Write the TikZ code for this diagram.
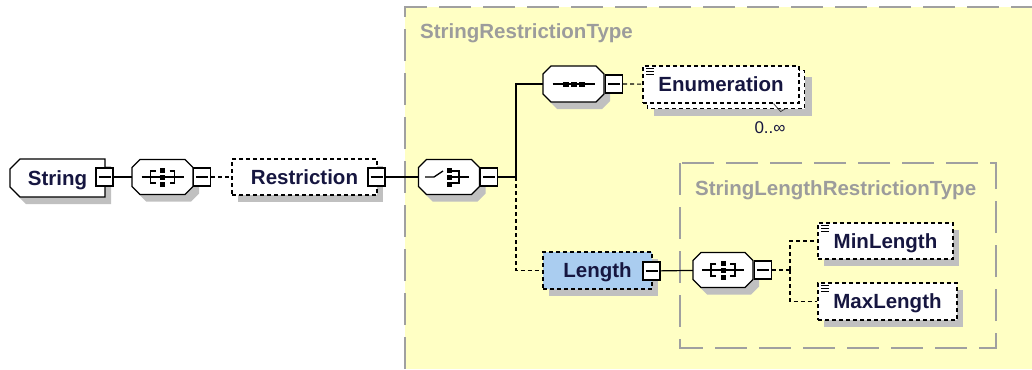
\documentclass[tikz,border=0pt]{standalone}
\usepackage{fontspec}
\setmainfont{Liberation Sans}
\usetikzlibrary{shapes.misc,shadows,backgrounds}

\definecolor{groupfill}{HTML}{FFFFC4}
\definecolor{groupline}{HTML}{A0A0A0}
\definecolor{grouptext}{HTML}{9C9C9C}
\definecolor{nametext}{HTML}{161640}
\definecolor{shadowgray}{HTML}{C0C0C0}
\definecolor{selfill}{HTML}{AACDF0}

\newcommand\namefont{\fontsize{20.5}{24}\selectfont\bfseries}
\newcommand\occfont{\fontsize{17}{20}\selectfont}

\tikzset{
  boxshadow/.style={drop shadow={shadow xshift=6pt, shadow yshift=-7pt, fill=shadowgray, opacity=1}},
  plainbox/.style={draw=black, line width=1.2pt, fill=white, inner sep=0pt,
    minimum height=36pt, font=\namefont, text=nametext, text height=14.7pt, text depth=0pt},
  elem/.style={plainbox, boxshadow},
  optelem/.style={elem, dash pattern=on 4pt off 3pt},
  comp/.style={inner sep=0pt, minimum width=61pt, minimum height=35pt},
  mbox/.style={draw=black, line width=1.2pt, fill=white, minimum width=17pt, minimum height=18pt,
    inner sep=0pt, path picture={\draw[line width=1.2pt]
      ([xshift=2.5pt]path picture bounding box.west) -- ([xshift=-2.5pt]path picture bounding box.east);}},
  wire/.style={draw=black, line width=1.2pt},
  optwire/.style={wire, dash pattern=on 4pt off 3pt},
  grp/.style={draw=groupline, line width=1.6pt, dash pattern=on 32pt off 12pt},
  grptitle/.style={font=\namefont, text=grouptext, anchor=base west, inner sep=0pt},
  glyph/.style={line width=1.3pt},
}

% octagonal compositor outline with its shadow, around a named node
% #1 node, #2 half width, #3 half height
\newcommand\compbox[3]{%
  \begin{scope}[shift={(#1.center)}]
    \begin{scope}[shift={(6,7)}]
      \fill[shadowgray] (-#2+8,-#3) -- (#2-8,-#3) -- (#2,-#3+8) -- (#2,#3-8) -- (#2-8,#3)
        -- (-#2+8,#3) -- (-#2,#3-8) -- (-#2,-#3+8) -- cycle;
    \end{scope}
    \filldraw[fill=white, draw=black, line width=1.2pt]
      (-#2+8,-#3) -- (#2-8,-#3) -- (#2,-#3+8) -- (#2,#3-8) -- (#2-8,#3)
      -- (-#2+8,#3) -- (-#2,#3-8) -- (-#2,-#3+8) -- cycle;
  \end{scope}}

% compositor glyphs, drawn around the centre of a compositor node
\newcommand\allglyph[1]{%
  \begin{scope}[shift={(#1.center)}]
    \draw[glyph] (-21,0) -- (21,0);
    \draw[glyph] (-7,-6) -- (-12,-6) -- (-12,6) -- (-7,6);
    \draw[glyph] (7,-6) -- (12,-6) -- (12,6) -- (7,6);
    \foreach \d in {-7,0,7} \fill (-2.5,\d-2.5) rectangle (2.5,\d+2.5);
  \end{scope}}
\newcommand\choiceglyph[1]{%
  \begin{scope}[shift={(#1.center)}]
    \draw[glyph] (-24,0) -- (-15,0) -- (-6,-6);
    \draw[glyph] (3,-6) -- (10,-6) -- (10,6) -- (3,6);
    \draw[glyph] (3,0) -- (20,0);
    \foreach \d in {-7,0,7} \fill (-2.5,\d-2.5) rectangle (2.5,\d+2.5);
  \end{scope}}
\newcommand\seqglyph[1]{%
  \begin{scope}[shift={(#1.center)}]
    \draw[glyph] (-21,0) -- (21,0);
    \foreach \d in {-8,0,8} \fill (\d-3,-2.5) rectangle (\d+3,2.5);
  \end{scope}}
% the "simple content" mark in the top left corner of an element box
\newcommand\contentmark[1]{%
  \begin{scope}[shift={(#1.north west)}]
    \foreach \d in {3,6,9} \draw[line width=0.9pt] (4,\d) -- (12,\d);
  \end{scope}}

\begin{document}
\begin{tikzpicture}[x=1pt, y=-1pt]
\useasboundingbox (0,0) rectangle (1032,369);

% type groups
\begin{scope}[on background layer]
  \fill[groupfill] (405,7) rectangle (1032,369);
  \draw[grp] (405,369) -- (405,7) -- (1032,7);
  \draw[grp] (680,163) rectangle (996,348);
\end{scope}
\node[grptitle] (t1) at (420,38.5) {StringRestrictionType};
\node[grptitle] (t2) at (695,195) {StringLengthRestrictionType};

% elements and compositors
\node[elem, chamfered rectangle, chamfered rectangle corners={north west,south west},
      chamfered rectangle sep=5pt, minimum width=95pt, minimum height=38pt]
      (str) at (57.5,178) {String\hspace{18pt}};
\node[mbox] (strm) at (104.5,177) {};
\node[comp] (c1) at (162.5,177) {};
\compbox{c1}{30.5}{17.5}
\node[mbox] (c1m) at (202,177) {};
\node[optelem, minimum width=145pt] (restr) at (304.5,177) {Restriction\hspace{6pt}};
\node[mbox] (restrm) at (376.5,177) {};
\node[comp] (c2) at (449,177) {};
\compbox{c2}{30.5}{17.5}
\node[mbox] (c2m) at (489,177) {};
\coordinate (j1) at (516,177);

\node[comp, minimum height=36pt] (c3) at (573.5,84) {};
\compbox{c3}{30.5}{18}
\node[mbox] (c3m) at (614,84) {};
\node[plainbox, dash pattern=on 4pt off 3pt, minimum width=156pt, minimum height=37pt]
      (enum) at (721,84.5) {Enumeration};
\node[font=\occfont, text=nametext, inner sep=0pt] (occ) at (770,128) {0..∞};

\node[optelem, fill=selfill, minimum width=109pt, minimum height=37pt]
      (len) at (597.5,270.5) {Length\hspace{5pt}};
\node[mbox] (lenm) at (651.5,271) {};
\node[comp, minimum width=60pt] (c4) at (723,270) {};
\compbox{c4}{30}{17.5}
\node[mbox] (c4m) at (763,270) {};
\coordinate (j2) at (790,270);
\node[optelem, minimum width=135pt] (minl) at (885.5,241) {MinLength};
\node[optelem, minimum width=139pt, minimum height=37pt] (maxl) at (887.5,301.5) {MaxLength};

% repeated element: stacked copy behind Enumeration
\begin{scope}[on background layer]
  \fill[shadowgray] ([shift={(12,12)}]enum.north west) rectangle ([shift={(12,12)}]enum.south east);
  \draw[plainbox, dash pattern=on 4pt off 3pt]
    ([shift={(5,5)}]enum.north west) rectangle ([shift={(5,5)}]enum.south east);
\end{scope}
\draw[black!75, line width=0.8pt] ([shift={(-26,0)}]enum.south east) -- ([shift={(-19,8)}]enum.south east)
  -- ([shift={(-14,5)}]enum.south east);

% glyphs
\allglyph{c1}
\choiceglyph{c2}
\seqglyph{c3}
\allglyph{c4}
\contentmark{enum}
\contentmark{minl}
\contentmark{maxl}

% connectors
\draw[wire] (strm) -- (c1);
\draw[optwire] (c1m) -- (restr);
\draw[wire] (restrm) -- (c2);
\draw[wire] (c2m.east) -- (j1);
\draw[wire] (j1) |- (c3.west);
\draw[optwire] (j1) |- (len.west);
\draw[optwire] (c3m) -- (enum);
\draw[wire] (lenm) -- (c4);
\draw[optwire] (c4m.east) -- (j2);
\draw[optwire] (j2) |- (minl.west);
\draw[optwire] (j2) |- (maxl.west);
\end{tikzpicture}
\end{document}
